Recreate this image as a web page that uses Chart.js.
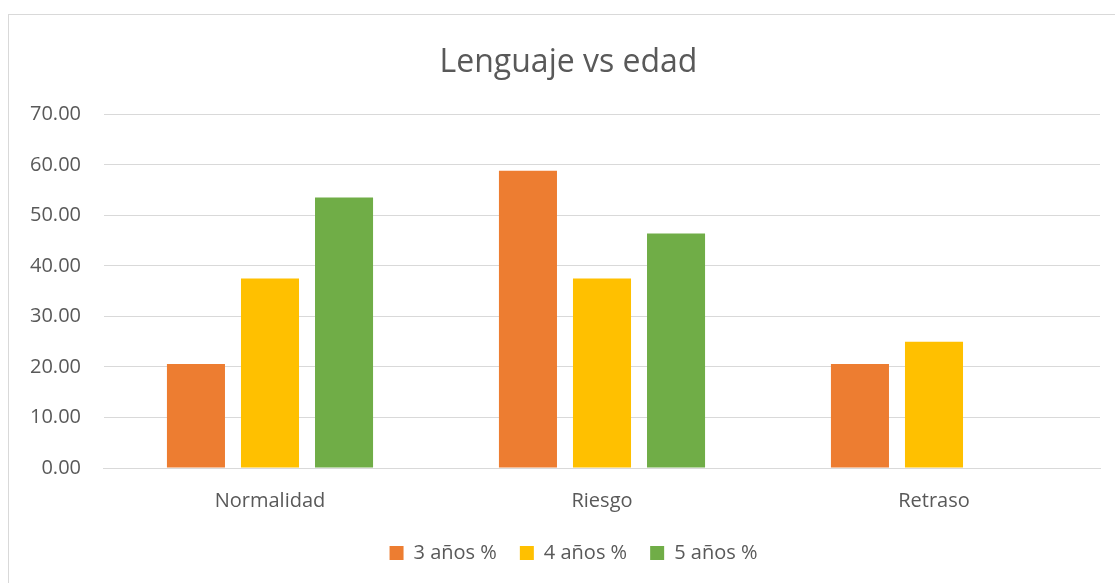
<!DOCTYPE html>
<html>
<head>
<meta charset="utf-8">
<script src="https://cdn.jsdelivr.net/npm/chart.js@4"></script>
<style>
  html, body { margin: 0; padding: 0; background: #fff; overflow: hidden; }
  #frame { position: absolute; left: 8px; top: 14px; width: 1124px; height: 600px; border: 1px solid #d9d9d9; box-sizing: border-box; }
  #wrap { position: absolute; left: 0; top: 0; width: 1140px; height: 583px; }
</style>
</head>
<body>
<div id="frame"></div>
<div id="wrap"><canvas id="bars"></canvas></div>
<script>
'use strict';

const categories = ['Normalidad', 'Riesgo', 'Retraso'];
const seriesNames = ['3 años %', '4 años %', '5 años %'];
const tres = [20.59, 58.82, 20.59];
const cuatro = [37.50, 37.50, 25.00];
const cinco = [53.57, 46.43, 0];
const colors = ['#ed7d31', '#ffc000', '#70ad47'];

const textColor = '#595959';
const fontFamily = "'Open Sans', 'Noto Sans', sans-serif";

// nudge title and legend: legend up closer to the labels, both a bit to the right
const boxNudge = {
  id: 'boxNudge',
  afterLayout(chart) {
    chart.legend.top -= 6;
    chart.legend.bottom -= 6;
    chart.legend.left += 20;
    chart.legend.right += 20;
    chart.titleBlock.left += 15;
    chart.titleBlock.right += 15;
  },
};

const barConfig = {
  type: 'bar',
  data: {
    labels: categories,
    datasets: [tres, cuatro, cinco].map((vals, i) => ({
      label: seriesNames[i],
      data: vals,
      backgroundColor: colors[i],
      borderWidth: 0,
      categoryPercentage: 0.669,
      barPercentage: 0.784,
    })),
  },
  options: {
    responsive: true,
    maintainAspectRatio: false,
    animation: false,
    layout: { padding: { left: 7, right: 40, top: 44, bottom: 4 } },
    plugins: {
      title: {
        display: true,
        text: 'Lenguaje vs edad',
        color: textColor,
        font: { family: fontFamily, size: 32, weight: 'normal' },
        padding: { top: 0, bottom: 32 },
      },
      legend: {
        position: 'bottom',
        labels: {
          color: textColor,
          font: { family: fontFamily, size: 20 },
          boxWidth: 14,
          boxHeight: 14,
          padding: 23,
        },
      },
      tooltip: { enabled: false },
    },
    scales: {
      x: {
        grid: { display: false },
        border: { color: '#d9d9d9', width: 1 },
        ticks: { color: textColor, font: { family: fontFamily, size: 20 }, padding: 13 },
      },
      y: {
        min: 0,
        max: 70,
        ticks: {
          stepSize: 10,
          color: textColor,
          font: { family: fontFamily, size: 20 },
          padding: 23,
          callback: v => v.toFixed(2),
        },
        grid: { color: '#d9d9d9', lineWidth: 1, drawTicks: false },
        border: { display: false },
      },
    },
  },
  plugins: [boxNudge],
};

window.myBar = new Chart(document.getElementById('bars'), barConfig);
</script>
</body>
</html>
